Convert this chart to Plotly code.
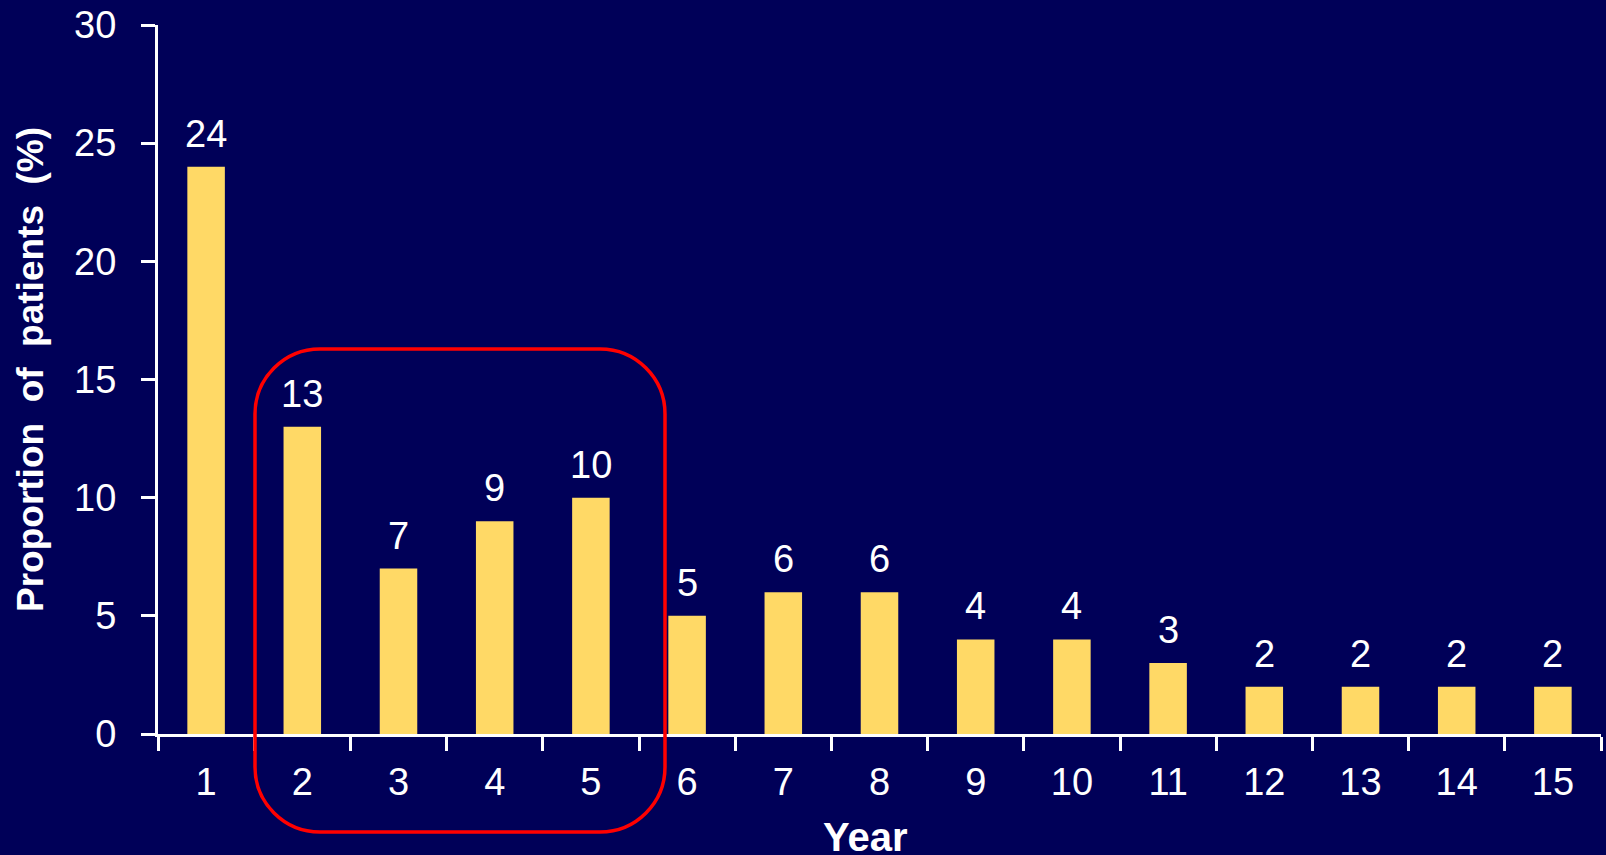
import plotly.graph_objects as go

# Data
years = [str(y) for y in range(1, 16)]
proportions = [24, 13, 7, 9, 10, 5, 6, 6, 4, 4, 3, 2, 2, 2, 2]
y_ticks = [0, 5, 10, 15, 20, 25, 30]

BG = "#000058"
BAR = "#FFD966"
WHITE = "#FFFFFF"
FONT = "Liberation Sans, Arial, sans-serif"

W, H = 1606, 855
ML, MR, MT, MB = 158, 5, 25, 121
PW, PH = W - ML - MR, H - MT - MB

fig = go.Figure()
fig.add_trace(go.Bar(
    x=years, y=proportions, width=0.39,
    marker=dict(color=BAR, line=dict(width=0)),
    hoverinfo="x+y",
))

# value labels above each bar (category axis: position by index)
for i, v in enumerate(proportions):
    fig.add_annotation(x=i, y=v, text=str(v), showarrow=False,
                       yanchor="bottom", yshift=10,
                       font=dict(family=FONT, size=38, color=WHITE))


def px_x(p):
    return (p - ML) / PW


def px_y(p):
    return (MT + PH - p) / PH


# rounded highlight box around years 2-5
bx0, bx1, by0, by1, rad = 255, 665, 349, 832, 65
k = 0.5523 * rad
path = (
    f"M {px_x(bx0 + rad)} {px_y(by0)} L {px_x(bx1 - rad)} {px_y(by0)} "
    f"C {px_x(bx1 - rad + k)} {px_y(by0)} {px_x(bx1)} {px_y(by0 + rad - k)} {px_x(bx1)} {px_y(by0 + rad)} "
    f"L {px_x(bx1)} {px_y(by1 - rad)} "
    f"C {px_x(bx1)} {px_y(by1 - rad + k)} {px_x(bx1 - rad + k)} {px_y(by1)} {px_x(bx1 - rad)} {px_y(by1)} "
    f"L {px_x(bx0 + rad)} {px_y(by1)} "
    f"C {px_x(bx0 + rad - k)} {px_y(by1)} {px_x(bx0)} {px_y(by1 - rad + k)} {px_x(bx0)} {px_y(by1 - rad)} "
    f"L {px_x(bx0)} {px_y(by0 + rad)} "
    f"C {px_x(bx0)} {px_y(by0 + rad - k)} {px_x(bx0 + rad - k)} {px_y(by0)} {px_x(bx0 + rad)} {px_y(by0)} Z"
)
fig.add_shape(type="path", path=path, xref="paper", yref="paper",
              line=dict(color="#FF0000", width=3.5), layer="above")

# axis titles
fig.add_annotation(text="<b>Year</b>", xref="paper", yref="paper",
                   x=px_x(865), y=px_y(861), xanchor="center", yanchor="bottom",
                   showarrow=False,
                   font=dict(family=FONT, size=40, color=WHITE))
fig.add_annotation(text="<b>Proportion  of  patients  (%)</b>", xref="paper", yref="paper",
                   x=px_x(30), y=px_y(370), xanchor="center", yanchor="middle",
                   showarrow=False, textangle=-90,
                   font=dict(family=FONT, size=37, color=WHITE))

fig.update_layout(
    width=W, height=H,
    margin=dict(l=ML, r=MR, t=MT, b=MB, pad=0),
    paper_bgcolor=BG, plot_bgcolor=BG,
    showlegend=False,
    font=dict(family=FONT, size=38, color=WHITE),
    xaxis=dict(
        type="category", tickson="boundaries", range=[-0.5, len(years) - 0.5],
        showline=True, linecolor=WHITE, linewidth=3,
        ticks="outside", ticklen=14, tickwidth=3, tickcolor=WHITE,
        ticklabelstandoff=12,
        tickfont=dict(family=FONT, size=38, color=WHITE),
        showgrid=False, zeroline=False,
    ),
    yaxis=dict(
        range=[0, 30], tickvals=y_ticks,
        showline=True, linecolor=WHITE, linewidth=3,
        ticks="outside", ticklen=14, tickwidth=3, tickcolor=WHITE,
        ticklabelstandoff=17,
        tickfont=dict(family=FONT, size=38, color=WHITE),
        showgrid=False, zeroline=False,
    ),
)

fig.write_html("out.html")
